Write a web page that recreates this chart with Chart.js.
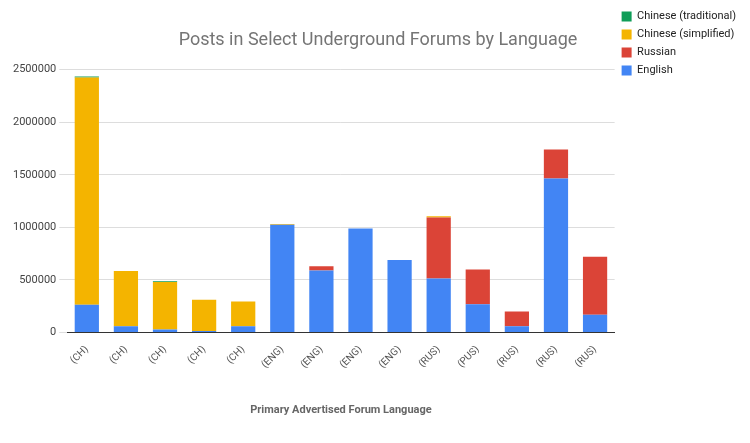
<!DOCTYPE html><html><head><script src="https://cdn.jsdelivr.net/npm/chart.js@4"></script>
<style>body{margin:0;background:#fff}#w{width:750px;height:443px}</style></head><body><div id="w"><canvas id="c"></canvas></div>
<script>
const categories=["(CH)","(CH)","(CH)","(CH)","(CH)","(ENG)","(ENG)","(ENG)","(ENG)","(RUS)","(PUS)","(RUS)","(RUS)","(RUS)"];
const english=[265000,60000,30000,15000,60000,1025000,590000,990000,690000,515000,270000,60000,1465000,170000];
const russian=[0,0,0,0,0,0,40000,0,0,580000,330000,140000,275000,550000];
const chineseSimplified=[2160000,525000,450000,296000,235000,8000,0,0,0,10000,0,0,0,0];
const chineseTraditional=[10000,0,8000,0,0,0,0,0,0,0,0,0,0,0];
const ticks=[0,500000,1000000,1500000,2000000,2500000];
const ds=(l,d,c)=>({label:l,data:d,backgroundColor:c,borderWidth:0,barPercentage:0.62,categoryPercentage:1});
new Chart(document.getElementById('c'),{type:'bar',data:{labels:categories,datasets:[
ds('English',english,'#4285F4'),ds('Russian',russian,'#DB4437'),ds('Chinese (simplified)',chineseSimplified,'#F4B400'),ds('Chinese (traditional)',chineseTraditional,'#0F9D58')]},
options:{responsive:true,maintainAspectRatio:false,animation:false,
layout:{padding:{left:10,right:4,top:4,bottom:22}},
plugins:{title:{display:true,text:'Posts in Select Underground Forums by Language',color:'#757575',font:{family:'Roboto',size:18,weight:'normal'},padding:{top:26,bottom:18}},
legend:{position:'right',align:'start',reverse:true,labels:{boxWidth:10,boxHeight:10,color:'#222',font:{family:'Roboto',size:11},padding:7}},tooltip:{enabled:false}},
scales:{x:{stacked:true,grid:{display:false},border:{color:'#333'},ticks:{color:'#555',font:{family:'Roboto',size:10},maxRotation:45,minRotation:45},
title:{display:true,text:'Primary Advertised Forum Language',color:'#666',font:{family:'Roboto',size:11,weight:'bold'},padding:{top:30}}},
y:{stacked:true,min:0,max:2500000,afterBuildTicks:a=>{a.ticks=ticks.map(v=>({value:v}))},grid:{color:'#ddd'},border:{display:false},ticks:{color:'#444',font:{family:'Roboto',size:11},callback:v=>String(v)}}}}});
</script></body></html>
